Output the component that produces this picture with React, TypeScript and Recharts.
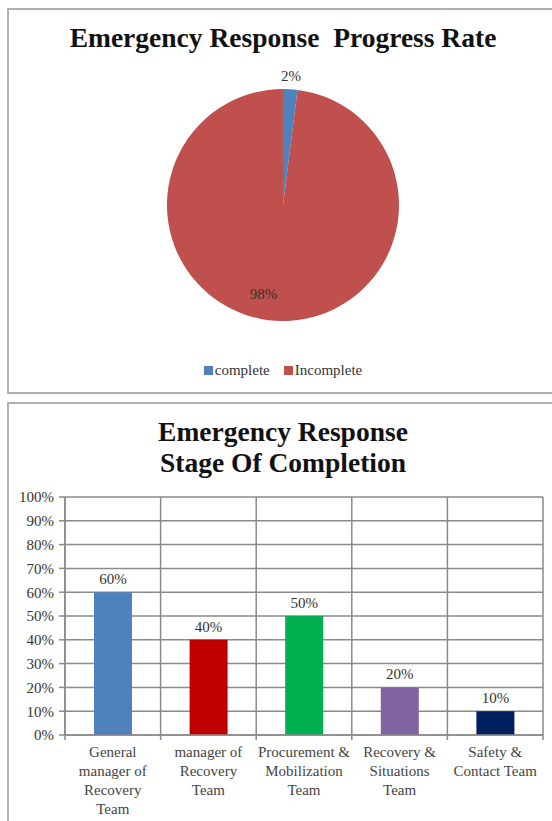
import React from "react";
import {
  PieChart,
  Pie,
  Cell,
  BarChart,
  Bar,
  XAxis,
  YAxis,
  CartesianGrid,
  LabelList,
} from "recharts";

const progressNames = ["complete", "Incomplete"];
const progressValues = [2, 98];
const progressColors = ["#4F81BD", "#C0504D"];

const teamLabels = [
  ["General", "manager of", "Recovery", "Team"],
  ["manager of", "Recovery", "Team"],
  ["Procurement &", "Mobilization", "Team"],
  ["Recovery &", "Situations", "Team"],
  ["Safety &", "Contact Team"],
];
const teamValues = [60, 40, 50, 20, 10];
const teamColors = ["#4F81BD", "#C00000", "#00B050", "#8064A2", "#002060"];
const percentTicks = [0, 10, 20, 30, 40, 50, 60, 70, 80, 90, 100];

const FONT = '"Liberation Serif", "Times New Roman", serif';
const GRID = "#8a8a8a";

const pieData = progressNames.map((name, i) => ({
  name,
  value: progressValues[i],
}));

const barData = teamValues.map((value, i) => ({
  key: "t" + i,
  value,
}));

const RADIAN = Math.PI / 180;

function pieLabel(props: any) {
  const { cx, cy, midAngle, outerRadius, index, value } = props;
  const r = index === 0 ? outerRadius + 13 : outerRadius * 0.77;
  const shift = index === 0 ? 0 : -14;
  const x = cx + r * Math.cos(-midAngle * RADIAN) + shift;
  const y = cy + r * Math.sin(-midAngle * RADIAN);
  return (
    <text
      x={x}
      y={y}
      textAnchor="middle"
      dominantBaseline="central"
      fill="#333"
      fontSize={15}
      fontFamily={FONT}
    >
      {value}%
    </text>
  );
}

// plot area of the bar chart
const BAR_W = 552;
const BAR_H = 426;
const Y_W = 65;
const M_RIGHT = 9;
const BAND = (BAR_W - Y_W - M_RIGHT) / teamValues.length;

function TeamTick(props: any) {
  const { x, y, index } = props;
  const lines = teamLabels[index] || [];
  const left = x - BAND / 2;
  return (
    <g>
      <line x1={left} y1={y - 8} x2={left} y2={y - 3} stroke={GRID} strokeWidth={1.5} />
      {index === teamLabels.length - 1 && (
        <line x1={left + BAND} y1={y - 8} x2={left + BAND} y2={y - 3} stroke={GRID} strokeWidth={1.5} />
      )}
      <text
        x={x}
        y={y + 14}
        textAnchor="middle"
        fill="#444"
        fontSize={15}
        fontFamily={FONT}
      >
        {lines.map((l: string, i: number) => (
          <tspan key={i} x={x} dy={i === 0 ? 0 : 19}>
            {l}
          </tspan>
        ))}
      </text>
    </g>
  );
}

const titleStyle: React.CSSProperties = {
  position: "absolute",
  left: 0,
  width: 566,
  textAlign: "center",
  fontFamily: FONT,
  fontWeight: "bold",
  fontSize: 27.5,
  color: "#111",
  lineHeight: "31px",
};

export default function App() {
  return (
    <div
      style={{
        position: "absolute",
        left: 0,
        top: 0,
        width: 552,
        height: 821,
        overflow: "hidden",
        background: "#fff",
        fontFamily: FONT,
      }}
    >
      {/* panel frames */}
      <div
        style={{
          position: "absolute",
          left: 7,
          top: 8,
          width: 560,
          height: 382,
          border: "2px solid #b0b0b0",
        }}
      />
      <div
        style={{
          position: "absolute",
          left: 7,
          top: 402,
          width: 560,
          height: 440,
          border: "2px solid #b0b0b0",
        }}
      />

      <div style={{ position: "absolute", left: 0, top: 0 }}>
        <PieChart width={552} height={395} margin={{ top: 0, right: 0, bottom: 0, left: 0 }}>
          <Pie
            data={pieData}
            dataKey="value"
            nameKey="name"
            cx={283}
            cy={205}
            outerRadius={116}
            startAngle={90}
            endAngle={-270}
            stroke="none"
            label={pieLabel}
            labelLine={false}
            isAnimationActive={false}
          >
            {pieData.map((d, i) => (
              <Cell key={d.name} fill={progressColors[i]} />
            ))}
          </Pie>
        </PieChart>
      </div>

      {/* legend */}
      <div
        style={{
          position: "absolute",
          left: 0,
          top: 361,
          width: 566,
          textAlign: "center",
          fontSize: 15,
          color: "#333",
          fontFamily: FONT,
          lineHeight: "18px",
        }}
      >
        {progressNames.map((n, i) => (
          <span key={n} style={{ marginRight: i === 0 ? 14 : 0 }}>
            <span
              style={{
                display: "inline-block",
                width: 9,
                height: 9,
                background: progressColors[i],
                marginRight: 2,
              }}
            />
            {n}
          </span>
        ))}
      </div>

      <div style={{ ...titleStyle, top: 22 }}>Emergency Response&nbsp; Progress Rate</div>

      <div style={{ ...titleStyle, top: 416 }}>
        Emergency Response
        <br />
        Stage Of Completion
      </div>

      <div style={{ position: "absolute", left: 0, top: 395 }}>
        <BarChart
          width={BAR_W}
          height={BAR_H}
          data={barData}
          margin={{ top: 102, right: M_RIGHT, left: 0, bottom: 0 }}
          barSize={38}
        >
          <CartesianGrid
            stroke={GRID}
            strokeWidth={1.5}
            verticalCoordinatesGenerator={({ offset }: any) =>
              teamValues
                .map((_, i) => offset.left + i * (offset.width / teamValues.length))
                .concat([offset.left + offset.width])
            }
          />
          <XAxis
            dataKey="key"
            height={86}
            axisLine={{ stroke: GRID, strokeWidth: 1.5 }}
            tickLine={false}
            interval={0}
            tick={<TeamTick />}
          />
          <YAxis
            width={Y_W}
            domain={[0, 100]}
            ticks={percentTicks}
            interval={0}
            tickFormatter={(v: number) => v + "%"}
            axisLine={{ stroke: GRID, strokeWidth: 1.5 }}
            tickLine={{ stroke: GRID, strokeWidth: 1.5 }}
            tickSize={6}
            tickMargin={5}
            tick={{ fill: "#333", fontSize: 15, fontFamily: FONT }}
          />
          <Bar dataKey="value" isAnimationActive={false}>
            {barData.map((d, i) => (
              <Cell key={d.key} fill={teamColors[i]} />
            ))}
            <LabelList
              dataKey="value"
              position="top"
              offset={8}
              formatter={(v: any) => v + "%"}
              style={{ fill: "#333", fontSize: 15, fontFamily: FONT }}
            />
          </Bar>
        </BarChart>
      </div>
    </div>
  );
}
